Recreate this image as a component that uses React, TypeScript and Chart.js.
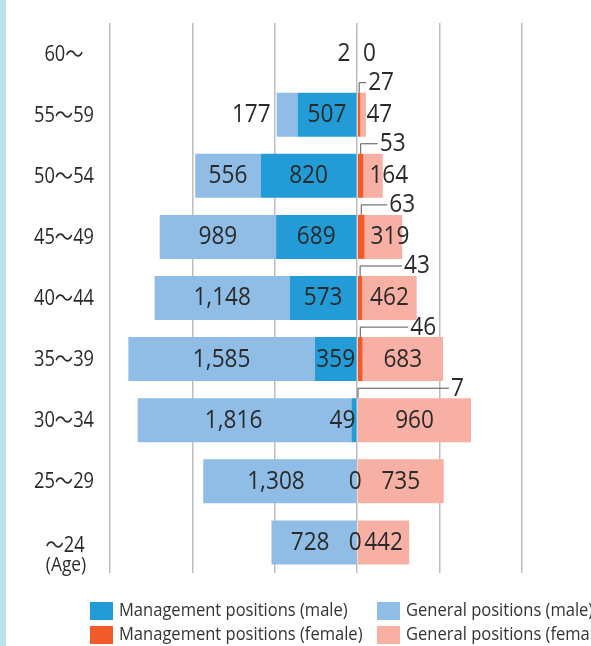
import React, { useEffect, useRef } from 'react';
import { Chart, registerables } from 'chart.js';

Chart.register(...registerables);

// ---------- data ----------
const categories = ['60～', '55～59', '50～54', '45～49', '40～44', '35～39', '30～34', '25～29', '～24'];
const ageUnit = '(Age)';
const mgmtMale: (number | null)[] = [null, 507, 820, 689, 573, 359, 49, 0, 0];
const generalMale = [2, 177, 556, 989, 1148, 1585, 1816, 1308, 728];
const mgmtFemale = [0, 27, 53, 63, 43, 46, 7, 0, 0];
const generalFemale = [0, 47, 164, 319, 462, 683, 960, 735, 442];
const xTicks = [-2100, -1400, -700, 0, 700, 1400];
const seriesLabels = [
  'Management positions (male)',
  'General positions (male)',
  'Management positions (female)',
  'General positions (female)',
];

// ---------- styles ----------
const colors = ['#239bd7', '#8fbde6', '#f15a29', '#f8b0a5'];
const leaderLength = [0, 7, 17, 26, 42, 48, 91, 0, 0];
const FONT = '"Open Sans", "Noto Sans CJK JP", sans-serif';
const SX = 0.87;
const TEXT = '#2a2a2a';

const fmt = (v: number) => v.toLocaleString('en-US');

function tw(ctx: CanvasRenderingContext2D, t: string, size: number) {
  ctx.font = `${size}px ${FONT}`;
  return ctx.measureText(t).width * SX;
}

function drawText(ctx: CanvasRenderingContext2D, t: string, x: number, y: number, size: number, align: 'left' | 'center' | 'right', color = TEXT) {
  ctx.save();
  ctx.font = `${size}px ${FONT}`;
  const w = ctx.measureText(t).width * SX;
  const left = align === 'center' ? x - w / 2 : align === 'right' ? x - w : x;
  ctx.fillStyle = color;
  ctx.textBaseline = 'middle';
  ctx.textAlign = 'left';
  ctx.translate(left, y);
  ctx.scale(SX, 1);
  ctx.fillText(t, 0, 0);
  ctx.restore();
  return w;
}

const customPlugin = {
  id: 'customPyramid',
  beforeDraw(chart: any) {
    const ctx = chart.ctx;
    ctx.save();
    ctx.fillStyle = '#bde3ea';
    ctx.fillRect(0, 0, 6, chart.height);
    ctx.restore();
  },
  afterDatasetsDraw(chart: any) {
    const ctx: CanvasRenderingContext2D = chart.ctx;
    const m0 = chart.getDatasetMeta(0);
    const m1 = chart.getDatasetMeta(1);
    const m2 = chart.getDatasetMeta(2);
    const m3 = chart.getDatasetMeta(3);
    const DS = 26;
    for (let i = 0; i < categories.length; i++) {
      // management male
      let mgmtLeft: number | null = null;
      const vm = mgmtMale[i];
      if (vm != null) {
        const el = m0.data[i].getProps(['x', 'base', 'y'], true);
        const t = fmt(vm);
        const w = tw(ctx, t, DS);
        const cx = vm === 0 ? el.base - 2 : Math.min((el.x + el.base) / 2, el.base - 1 - w / 2);
        drawText(ctx, t, cx, el.y, DS, 'center');
        mgmtLeft = cx - w / 2;
      }
      // general male
      {
        const el = m1.data[i].getProps(['x', 'base', 'y'], true);
        const left = Math.min(el.x, el.base);
        const right = Math.max(el.x, el.base);
        const t = fmt(generalMale[i]);
        const w = tw(ctx, t, DS);
        if (w + 4 > right - left) {
          drawText(ctx, t, left - 6, el.y, DS, 'right');
        } else {
          const r = mgmtLeft != null ? Math.min(right, mgmtLeft) : right;
          drawText(ctx, t, (left + r) / 2, el.y, DS, 'center');
        }
      }
      // management female (leader)
      const vf = mgmtFemale[i];
      if (vf > 0) {
        const el = m2.data[i].getProps(['x', 'base', 'y', 'height'], true);
        const cx = (el.x + el.base) / 2;
        const top = el.y - el.height / 2;
        const ly = top - 10;
        ctx.save();
        ctx.strokeStyle = '#555';
        ctx.lineWidth = 1;
        ctx.beginPath();
        ctx.moveTo(cx, top);
        ctx.lineTo(cx, ly);
        ctx.lineTo(cx + leaderLength[i], ly);
        ctx.stroke();
        ctx.restore();
        drawText(ctx, fmt(vf), cx + leaderLength[i] + 2, ly, DS, 'left');
      }
      // general female
      {
        const el = m3.data[i].getProps(['x', 'base', 'y'], true);
        const t = fmt(generalFemale[i]);
        const w = tw(ctx, t, DS);
        const cx = Math.max((el.x + el.base) / 2, el.base + 6 + w / 2);
        drawText(ctx, t, cx, el.y, DS, 'center');
      }
    }
  },
  afterDraw(chart: any) {
    const ctx: CanvasRenderingContext2D = chart.ctx;
    const yScale = chart.scales.y;
    const area = chart.chartArea;
    // category labels
    const lx = 64;
    categories.forEach((c, i) => {
      const y = yScale.getPixelForValue(i);
      if (i === categories.length - 1) {
        drawText(ctx, c, lx + 1, y + 4, 21, 'center');
        drawText(ctx, ageUnit, lx + 2, y + 23, 20, 'center');
      } else {
        drawText(ctx, c, lx, y + 1, 21, 'center');
      }
    });
    // legend
    const rows = [area.bottom + 38, area.bottom + 62];
    const cols = [90, 377];
    chart.data.datasets.forEach((ds: any, i: number) => {
      const row = Math.floor(i / 2);
      const col = i % 2;
      const y = rows[row];
      const x = cols[col];
      ctx.save();
      ctx.fillStyle = ds.backgroundColor;
      ctx.fillRect(x, y - 9, 23, 18);
      ctx.restore();
      drawText(ctx, ds.label, x + 29, y, 19, 'left', '#333');
    });
  },
};

export default function App() {
  const canvasRef = useRef<HTMLCanvasElement | null>(null);
  useEffect(() => {
    document.body.style.margin = '0';
    const canvas = canvasRef.current;
    if (!canvas) return;
    const chart = new Chart(canvas, {
      type: 'bar',
      data: {
        labels: categories,
        datasets: [
          { label: seriesLabels[0], data: mgmtMale.map((v) => (v == null ? null : -v)), backgroundColor: colors[0] },
          { label: seriesLabels[1], data: generalMale.map((v) => -v), backgroundColor: colors[1] },
          { label: seriesLabels[2], data: mgmtFemale, backgroundColor: colors[2] },
          { label: seriesLabels[3], data: generalFemale, backgroundColor: colors[3] },
        ],
      },
      options: {
        indexAxis: 'y',
        animation: false,
        responsive: true,
        maintainAspectRatio: false,
        layout: { padding: { top: 23, right: 69, bottom: 73, left: 0 } },
        datasets: { bar: { barPercentage: 0.72, categoryPercentage: 1, borderWidth: 0 } },
        plugins: { legend: { display: false }, tooltip: { enabled: false } },
        scales: {
          x: {
            type: 'linear',
            stacked: true,
            min: xTicks[0],
            max: xTicks[xTicks.length - 1],
            afterBuildTicks: (s: any) => {
              s.ticks = xTicks.map((v) => ({ value: v }));
            },
            ticks: { display: false },
            grid: { color: '#bdbdbd', lineWidth: 1.5, drawTicks: false },
            border: { display: false },
            afterFit: (s: any) => {
              s.height = 0;
            },
          },
          y: {
            type: 'category',
            stacked: true,
            offset: true,
            grid: { display: false, drawTicks: false },
            ticks: { display: false },
            border: { display: false },
            afterFit: (s: any) => {
              s.width = 110;
            },
          },
        },
      } as any,
      plugins: [customPlugin],
    });
    return () => chart.destroy();
  }, []);
  return (
    <div style={{ position: 'relative', width: 591, height: 646 }}>
      <canvas ref={canvasRef} />
    </div>
  );
}
